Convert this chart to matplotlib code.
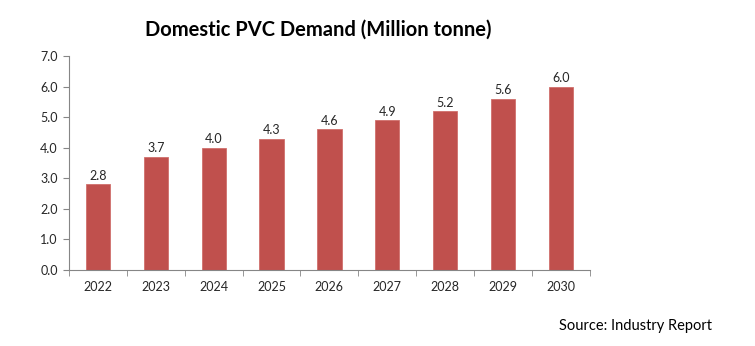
import numpy as np
from matplotlib import pyplot as plt

years = ["2022", "2023", "2024", "2025", "2026", "2027", "2028", "2029", "2030"]
demand = [2.8, 3.7, 4.0, 4.3, 4.6, 4.9, 5.2, 5.6, 6.0]
y_ticks = [0.0, 1.0, 2.0, 3.0, 4.0, 5.0, 6.0, 7.0]

plt.rcParams['font.family'] = ['Lato', 'DejaVu Sans']

fig = plt.figure(figsize=(7.55, 3.46), dpi=100)
ax = fig.add_axes([0.0914, 0.2197, 0.6897, 0.6183])

x = np.arange(len(years))
bars = ax.bar(x, demand, width=0.42, color="#C0504D", edgecolor="#D0706C", linewidth=0.6, zorder=2)
for xi, v in zip(x, demand):
    ax.text(xi, v + 0.08, f"{v:.1f}", ha="center", va="bottom", fontsize=9, color="#262626")

ax.set_xlim(-0.5, len(years) - 0.5)
ax.set_ylim(0, 7.0)
ax.set_yticks(y_ticks)
ax.set_yticklabels([f"{t:.1f}" for t in y_ticks])
ax.set_xticks(x)
ax.set_xticklabels(years)
ax.set_xticks(np.arange(len(years) + 1) - 0.5, minor=True)

ax.tick_params(axis="x", which="major", length=0, pad=8, labelsize=9, labelcolor="#262626")
ax.tick_params(axis="x", which="minor", length=4, color="#868686", direction="out")
ax.tick_params(axis="y", length=4, color="#868686", labelsize=9, labelcolor="#262626", pad=4)

for s in ["top", "right"]:
    ax.spines[s].set_visible(False)
ax.spines["left"].set_color("#868686")
ax.spines["bottom"].set_color("#868686")

fig.text(0.421, 0.913, "Domestic PVC Demand (Million tonne)", ha="center", va="center",
         fontsize=14.5, fontweight="bold", color="#000000")
fig.text(0.943, 0.057, "Source: Industry Report", ha="right", va="center",
         fontsize=10.5, color="#000000")

fig.savefig("out.png", dpi=100)
